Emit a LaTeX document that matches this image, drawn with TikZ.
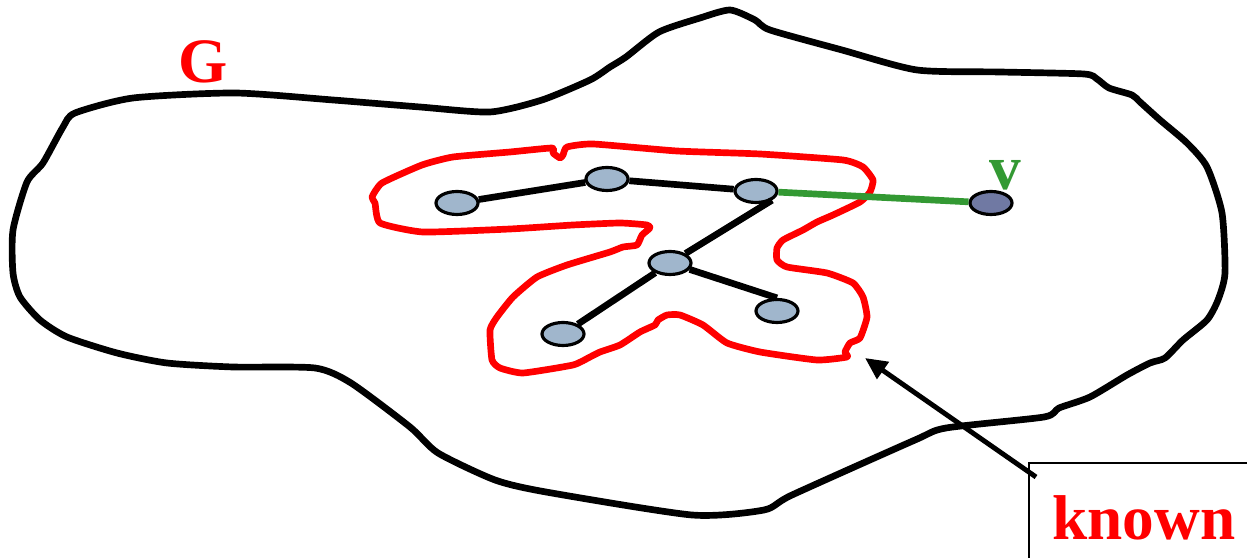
\documentclass[tikz,border=0pt]{standalone}
\usepackage{fontspec}
\setmainfont{Liberation Serif}
\usetikzlibrary{positioning}
\usetikzlibrary{shapes.geometric}
\usetikzlibrary{arrows.meta}
\definecolor{nodeblue}{HTML}{A0B6CC}
\definecolor{vblue}{HTML}{7079A3}
\definecolor{edgegreen}{HTML}{339933}
\tikzstyle{vertex} = [ellipse, minimum width=0.42cm, minimum height=0.23cm, inner sep=0pt, draw=black, fill=nodeblue, line width=0.9pt]
\tikzstyle{newvertex} = [vertex, fill=vblue]
\tikzstyle{treeedge} = [line width=1.9pt, black]
\tikzstyle{newedge} = [line width=1.9pt, edgegreen]
\tikzstyle{blob} = [line width=1.9pt, black, line join=round]
\tikzstyle{knownset} = [line width=1.9pt, red, line join=round]
\tikzstyle{bigletter} = [font=\bfseries\fontsize{18}{20}\selectfont, inner sep=0pt]
\tikzstyle{knownbox} = [rectangle, draw=black, line width=0.6pt, anchor=north west, minimum width=2.3cm, minimum height=1.1cm, text=red, font=\bfseries\fontsize{18}{20}\selectfont]

\begin{document}
\begin{tikzpicture}
	\useasboundingbox (0,0) rectangle (12.47,-5.58);
	% the graph G
	\draw[blob] plot[smooth cycle, tension=0.4] coordinates {(0.13,-2.30) (0.27,-1.82) (0.43,-1.63) (0.63,-1.27) (0.75,-1.13) (1.33,-0.98) (2.35,-0.93) (3.33,-1.00) (4.20,-1.07) (4.90,-1.12) (5.42,-1.00) (5.90,-0.80) (6.10,-0.67) (6.26,-0.57) (6.59,-0.32) (7.00,-0.18) (7.30,-0.10) (7.55,-0.20) (7.70,-0.30) (8.42,-0.50) (9.17,-0.70) (10.00,-0.72) (10.84,-0.74) (10.97,-0.79) (11.09,-0.88) (11.32,-0.95) (11.40,-1.02) (11.60,-1.20) (11.87,-1.43) (12.07,-1.67) (12.22,-2.13) (12.25,-2.73) (12.18,-3.00) (12.07,-3.20) (11.83,-3.40) (11.65,-3.58) (11.50,-3.63) (11.27,-3.75) (10.90,-3.97) (10.59,-4.08) (10.44,-4.17) (9.46,-4.28) (9.15,-4.40) (7.92,-4.95) (7.64,-5.10) (6.92,-5.15) (5.46,-4.92) (4.95,-4.80) (4.38,-4.53) (4.10,-4.27) (3.51,-3.83) (3.15,-3.68) (2.33,-3.67) (1.67,-3.63) (1.17,-3.53) (0.67,-3.37) (0.40,-3.20) (0.20,-2.97) (0.13,-2.73)};
	\node[bigletter, text=red] (glabel) at (2.03,-0.62) {G};
	% the known part
	\draw[knownset] plot[smooth cycle, tension=0.3] coordinates {(3.82,-1.83) (4.22,-1.65) (4.53,-1.57) (5.10,-1.52) (5.52,-1.48) (5.53,-1.53) (5.60,-1.58) (5.63,-1.55) (5.67,-1.47) (5.93,-1.44) (6.77,-1.51) (7.60,-1.54) (8.43,-1.60) (8.63,-1.67) (8.73,-1.80) (8.70,-1.92) (8.60,-2.02) (8.33,-2.15) (8.17,-2.22) (8.03,-2.30) (7.83,-2.40) (7.77,-2.48) (7.77,-2.60) (7.87,-2.67) (8.27,-2.73) (8.53,-2.83) (8.63,-2.97) (8.67,-3.17) (8.60,-3.38) (8.50,-3.43) (8.45,-3.52) (8.47,-3.57) (8.17,-3.60) (7.60,-3.52) (7.27,-3.43) (7.03,-3.25) (6.80,-3.15) (6.67,-3.15) (6.58,-3.20) (6.55,-3.25) (6.40,-3.32) (6.20,-3.45) (6.00,-3.52) (5.90,-3.57) (5.73,-3.65) (5.23,-3.73) (5.00,-3.68) (4.92,-3.60) (4.90,-3.30) (4.97,-3.17) (5.13,-2.97) (5.37,-2.77) (5.67,-2.65) (6.10,-2.52) (6.23,-2.47) (6.37,-2.45) (6.42,-2.35) (6.50,-2.28) (6.47,-2.25) (6.20,-2.23) (5.73,-2.25) (5.10,-2.29) (4.23,-2.32) (3.80,-2.23) (3.75,-2.03) (3.72,-1.97)};
	% vertices
	\node[vertex] (a) at (4.57,-2.03) {};
	\node[vertex] (b) at (6.07,-1.79) {};
	\node[vertex] (c) at (7.56,-1.91) {};
	\node[vertex] (d) at (6.70,-2.63) {};
	\node[vertex] (e) at (7.77,-3.11) {};
	\node[vertex] (f) at (5.63,-3.34) {};
	\node[newvertex] (v) at (9.91,-2.03) {};
	\node[bigletter, text=edgegreen] (vlabel) at (10.05,-1.75) {v};
	% edges
	\draw[treeedge] (a) -- (b);
	\draw[treeedge] (b) -- (c);
	\draw[treeedge] (d) -- (c.-30);
	\draw[treeedge] (d) -- (e.north);
	\draw[treeedge] (d) -- (f);
	\draw[newedge] (c) -- (v);
	% label box with arrow
	\node[knownbox] (known) at (10.28,-4.62) {known};
	\coordinate (tip) at (8.65,-3.58);
	\draw[-{Triangle[length=0.22cm, width=0.2cm]}, line width=1.4pt] ([xshift=0.08cm, yshift=-0.15cm]known.north west) -- (tip);
\end{tikzpicture}
\end{document}
